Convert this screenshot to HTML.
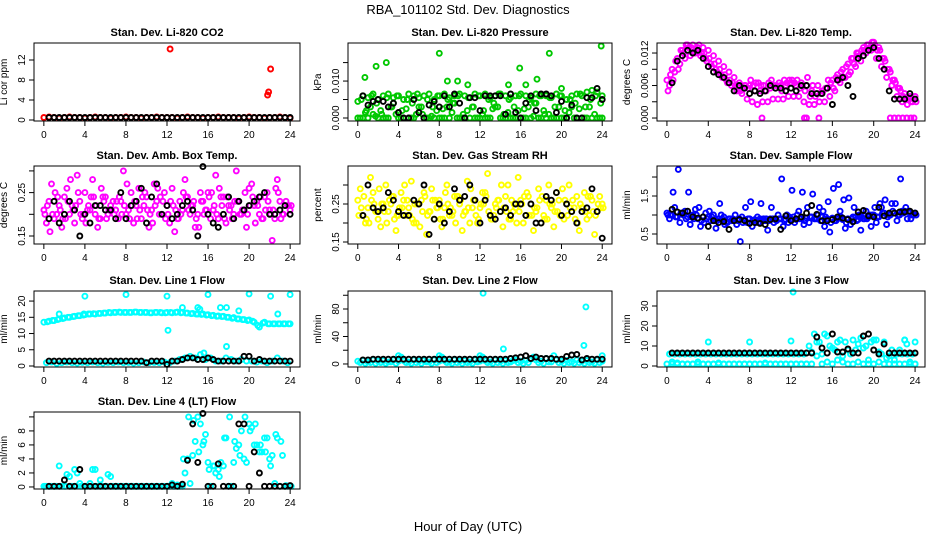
<!DOCTYPE html>
<html><head><meta charset="utf-8"><style>
html,body{margin:0;padding:0;background:#fff;}
svg{display:block;font-family:"Liberation Sans",sans-serif;}
</style></head><body>
<svg id="chart" width="936" height="540" viewBox="0 0 936 540" xmlns="http://www.w3.org/2000/svg">
<rect width="936" height="540" fill="#fff"/>
<text x="468" y="14" text-anchor="middle" font-size="13">RBA_101102  Std. Dev. Diagnostics</text>
<text x="468" y="531" text-anchor="middle" font-size="13">Hour of Day (UTC)</text>
</svg>
<script>
const xTicks=[0,4,8,12,16,20,24];
const co2A=[0.5,0.6,0.5,0.4,0.5,0.6,0.5,0.5,0.4,0.5,0.6,0.5,0.5,0.4,0.5,0.5,0.6,0.5,0.5,0.4,0.5,0.5,0.6,0.5,0.5,0.5,0.4,0.5,0.6,0.5,0.5,0.4,0.5,0.5,0.6,0.5,0.5,0.5,0.4,0.5,0.6,0.5,0.5,0.4,0.5,0.5,0.6,0.5,0.4];
const co2K=[0.5,0.5,0.5,0.5,0.5,0.5,0.5,0.5,0.5,0.5,0.5,0.5,0.5,0.5,0.5,0.5,0.5,0.5,0.5,0.5,0.5,0.5,0.5,0.5,0.5,0.5,0.5,0.5,0.5,0.5,0.5,0.5,0.5,0.5,0.5,0.5,0.5,0.5,0.5,0.5,0.5,0.5,0.5,0.5,0.5,0.5,0.5,0.5];
const co2Out=[[12.3,14.2],[21.8,5.0],[21.9,5.6],[22.1,10.2]];

const prA=[4.5,6,5.5,6.5,5,6,6.5,5.5,6,5,6.5,6,5.5,6,6.5,5,6,6.5,5.5,6,6.5,6,5.5,6.5,6,6.5,5.5,6,6.5,6,5.5,6,6.5,6,5.5,6.5,6,6,5.5,6.5,6,5,6,6.5,6,7,7.5,7,6];
const prB=[0,1.5,3,0.5,2,0,3,1,0,2.5,0,1,3,0,0.5,2,0,3,1.5,0,0,2,3,0,1,0,2.5,3,0,1.5,0,2,0,3,0.5,0,2,1,0,3,0,1.5,0,2.5,0,3,1,0];
const prC=[0,0,0,1,0,0,0,4,0,0,0,0,3,0,0,0,0,0,0,4,0,0,0,0,0,0,0,3,0,0,0,0,0,0,0,4,0,0,0,0,0,0,3,0,0,0,0,0,0];
const prD=[5,2,6,4,1,5.5,3,6,2,5,4,6.5,1,5,3,6,2.5,5,4,6,1,5.5,3,6,2,5,4,6.5,1,5,3,6,2.5,5,4,6,1,5.5,3,6,2,5,4,6.5,3,5,6,4];
const prK=[6,3.5,4.5,5,4.5,3,4,1.5,0,0,5,1.5,0,3.5,4.5,3,6,3,6.5,4,0,5.5,5.5,2,6,6,6,6,1,6.5,1.5,0,4,6,2,6.5,6.5,6,1.5,4.5,0,3.5,0,0,5.5,5.5,8,5];
const prOut=[[0.7,11],[1.8,14],[2.8,15],[8,17.5],[8.8,10],[9.8,10],[10.8,9],[14.8,9],[15.9,13.5],[16.5,9],[17.6,10.5],[18.8,17.5],[20,8],[23.9,19.5]];

const tmA=[7,9,11,12.5,13.5,13.5,13,13,12.5,11.5,10.5,9.5,8.5,7.5,6.5,6,6,5,5,5,5.5,5.5,6,6,6.5,6,6.5,6,5,4.5,5,5.5,7,8,9,10,11,12,13,13.5,14,13,11,9,7,5.5,4.5,4,4];
const tmB=[6,8.5,10,11,11.5,12,11.5,11,10,9,8,7,6,5,4.5,3.5,3,2.5,3,3,3.5,3.5,3.5,4,4,4,3,2.5,2.5,3,3,4,5,6.5,7.5,8.5,9.5,10.5,12,12.5,11,9.5,7.5,6,4,3,2.5,3];
const tmC=[5,7,9,12,13,12,13.5,12,11,10,9,8,7,6,5,6,7,6.5,6,5,7,6,5,6.5,7,7,6,7.5,6,6,5,7,5.5,7,7.5,8,10,11.5,12.5,13,13.5,12.5,10.5,8.5,6.5,5,3.5,3,3];
const tmD=[8,10.5,12.5,13.5,13,12.5,12,10.5,9.5,8.5,7.5,6.5,6.5,6,5.5,5.5,6,6.5,6,6.5,6,6.5,7,7,6.5,5.5,5,4,4,4.5,5.5,6.5,7.5,8.5,9.5,11,12,12.5,13.5,14,12.5,11,9,7,5.5,4,3.5,3.5];
const tmK=[6.5,10.5,11.5,12.5,12,12.5,11,9.5,8.5,8,7.5,6.5,5,6,5.5,4.5,5,4.5,5,6,5.5,5.5,5,5.5,5,6,6,4.5,4.5,4.5,5.5,2.5,7,7.5,6,4,11,11.5,12.5,13,11,9,5,3.5,3.5,3.5,4.5,3.5];
const tmOut=[[9.2,0],[13.3,0],[13.5,0],[14.7,0],[21.6,0],[22,0],[22.4,0],[22.8,0],[23.2,0],[23.6,0],[23.9,0]];

const abA=[0.21,0.23,0.19,0.22,0.24,0.2,0.18,0.23,0.25,0.21,0.2,0.19,0.24,0.22,0.21,0.23,0.2,0.25,0.22,0.19,0.24,0.21,0.23,0.2,0.22,0.26,0.19,0.21,0.24,0.22,0.2,0.23,0.25,0.21,0.19,0.24,0.22,0.2,0.23,0.21,0.26,0.22,0.2,0.24,0.21,0.19,0.23,0.22,0.21];
const abB=[0.18,0.27,0.2,0.17,0.26,0.22,0.29,0.19,0.21,0.28,0.17,0.24,0.2,0.23,0.19,0.3,0.21,0.18,0.26,0.22,0.17,0.27,0.2,0.25,0.18,0.16,0.23,0.28,0.2,0.17,0.25,0.21,0.19,0.29,0.24,0.18,0.22,0.3,0.2,0.17,0.27,0.23,0.19,0.25,0.14,0.28,0.2,0.22];
const abC=[0.2,0.16,0.25,0.21,0.19,0.28,0.22,0.2,0.18,0.24,0.22,0.26,0.19,0.21,0.23,0.2,0.27,0.22,0.19,0.24,0.21,0.18,0.26,0.23,0.2,0.22,0.19,0.25,0.21,0.23,0.17,0.2,0.24,0.22,0.26,0.19,0.21,0.23,0.2,0.25,0.22,0.18,0.24,0.21,0.2,0.26,0.19,0.23,0.22];
const abD=[0.22,0.2,0.24,0.19,0.23,0.21,0.25,0.2,0.22,0.24,0.19,0.23,0.21,0.2,0.24,0.22,0.19,0.23,0.21,0.25,0.2,0.22,0.24,0.19,0.23,0.21,0.2,0.24,0.22,0.19,0.23,0.21,0.25,0.2,0.22,0.24,0.19,0.23,0.21,0.2,0.24,0.22,0.19,0.23,0.21,0.25,0.2,0.22];
const abK=[0.19,0.23,0.18,0.2,0.23,0.21,0.15,0.2,0.18,0.22,0.22,0.21,0.21,0.19,0.25,0.19,0.22,0.23,0.26,0.18,0.24,0.27,0.2,0.22,0.19,0.2,0.22,0.23,0.21,0.15,0.31,0.2,0.18,0.17,0.2,0.24,0.19,0.23,0.21,0.22,0.23,0.24,0.25,0.2,0.2,0.21,0.22,0.2];

const rhA=[0.26,0.22,0.24,0.28,0.21,0.25,0.23,0.27,0.22,0.26,0.24,0.2,0.25,0.28,0.23,0.21,0.26,0.24,0.22,0.27,0.25,0.23,0.2,0.26,0.24,0.28,0.22,0.25,0.23,0.27,0.21,0.24,0.26,0.22,0.25,0.23,0.2,0.26,0.24,0.28,0.22,0.25,0.23,0.27,0.24,0.21,0.26,0.23,0.25];
const rhB=[0.29,0.2,0.32,0.23,0.19,0.3,0.25,0.18,0.28,0.22,0.31,0.2,0.26,0.17,0.29,0.24,0.19,0.3,0.22,0.27,0.18,0.31,0.24,0.2,0.28,0.33,0.21,0.26,0.19,0.3,0.23,0.32,0.2,0.27,0.18,0.29,0.22,0.3,0.19,0.26,0.21,0.3,0.24,0.18,0.28,0.22,0.17,0.27];
const rhC=[0.22,0.27,0.2,0.25,0.29,0.23,0.26,0.21,0.24,0.3,0.22,0.25,0.19,0.27,0.23,0.26,0.21,0.28,0.24,0.2,0.26,0.23,0.29,0.22,0.25,0.27,0.21,0.24,0.3,0.23,0.26,0.2,0.25,0.28,0.22,0.24,0.27,0.21,0.25,0.23,0.29,0.22,0.26,0.2,0.24,0.27,0.23,0.25,0.24];
const rhD=[0.24,0.21,0.26,0.23,0.25,0.2,0.27,0.22,0.24,0.26,0.21,0.25,0.23,0.22,0.26,0.24,0.21,0.25,0.23,0.27,0.22,0.24,0.26,0.21,0.25,0.23,0.22,0.26,0.24,0.21,0.25,0.23,0.27,0.22,0.24,0.26,0.21,0.25,0.23,0.22,0.26,0.24,0.21,0.25,0.23,0.27,0.22,0.24];
const rhK=[0.22,0.3,0.24,0.23,0.24,0.28,0.26,0.23,0.22,0.22,0.26,0.25,0.3,0.17,0.21,0.25,0.2,0.23,0.29,0.26,0.27,0.3,0.26,0.2,0.26,0.22,0.21,0.23,0.24,0.22,0.25,0.25,0.22,0.25,0.2,0.2,0.27,0.26,0.28,0.22,0.25,0.23,0.2,0.23,0.24,0.29,0.23,0.16];

const sfA=[1.05,1.0,0.95,1.05,0.95,1.0,0.9,0.95,0.95,1.0,0.9,0.95,0.9,0.88,0.9,0.88,0.9,0.88,0.9,0.85,0.9,0.88,0.9,0.88,0.9,0.88,0.9,0.92,0.95,0.9,0.95,0.9,0.92,0.9,0.88,0.9,0.95,0.88,0.9,0.95,1.0,0.95,1.05,1.0,1.05,1.0,1.1,1.05,1.05];
const sfB=[0.9,1.2,0.8,1.1,0.75,1.15,0.7,1.05,0.85,0.65,1.0,0.8,0.85,0.75,0.95,0.8,0.7,0.95,0.85,0.6,0.9,1.0,0.7,0.8,0.95,1.1,0.75,0.8,0.9,1.2,0.7,0.55,0.85,1.1,0.65,0.75,0.95,0.6,1.1,0.7,0.8,1.2,0.75,1.3,0.85,1.1,0.9,1.0];
const sfC=[1.0,1.6,2.2,1.0,1.6,0.9,1.2,0.8,1.1,0.85,1.3,0.75,0.9,1.0,0.3,1.2,1.35,0.8,1.3,0.9,1.2,0.85,1.95,1.0,1.65,1.0,1.6,1.2,1.55,1.0,1.1,1.35,1.7,1.8,1.4,1.45,1.2,1.0,0.9,1.0,1.2,1.3,1.4,1.0,1.3,1.95,1.2,0.9,1.0];
const sfD=[1.0,0.95,1.05,0.9,0.95,1.0,0.85,0.9,0.95,0.85,0.9,0.8,0.9,0.85,0.8,0.9,0.85,0.8,0.9,0.85,0.8,0.9,0.85,0.95,0.8,0.9,0.85,0.95,0.9,0.85,0.95,0.8,0.85,0.95,0.8,0.9,0.85,0.95,0.9,1.0,0.95,1.05,0.95,1.1,1.0,1.05,1.1,1.0];
const sfK=[1.15,1.08,1.05,1.1,0.95,0.92,0.95,0.7,0.85,0.8,0.83,0.62,0.85,0.88,0.85,0.78,0.8,0.78,0.75,0.88,0.9,0.62,0.98,0.85,0.9,0.95,1.05,1.25,1.02,0.85,0.85,0.88,0.95,0.92,0.88,0.82,1.08,1.12,0.98,0.95,1.2,0.98,1.05,1.05,1.08,1.08,1.1,1.05];

const l1A=[13.5,13.8,14,14.5,14.8,15,15.3,15.5,15.8,16,16,16.2,16.3,16.4,16.5,16.5,16.5,16.5,16.6,16.5,16.5,16.4,16.5,16.4,16.5,16.4,16.6,16.5,16.3,16.2,16,16,15.8,15.6,15.4,15.3,15,14.9,14.5,14.3,14.2,13.5,12,13.5,13,13,13,13,13];
const l1B=[1,1.2,0.8,1,1.2,1,0.9,1.1,1,1.2,1,0.9,1.1,1,1.2,1,1.1,0.9,1,1.2,1,1.1,1,1.2,1,1.5,2,2.5,3,2.5,3.5,2,2.5,1.5,1.5,2.5,2,1.5,2,1.5,1.5,1.2,1.5,1,1.5,2.5,1.5,1];
const l1D=[13.6,14,14.3,14.6,15,15.2,15.5,15.7,16,16.1,16.2,16.3,16.5,16.5,16.6,16.5,16.5,16.6,16.5,16.5,16.4,16.5,16.5,16.4,16.5,16.5,16.4,16.3,16.1,16,15.9,15.7,15.5,15.3,15.2,15,14.7,14.5,14.3,14,13.8,12.5,13.2,13,13,13,13,13];
const l1K=[1.5,1.5,1.5,1.5,1.5,1.5,1.5,1.5,1.5,1.5,1.5,1.5,1.5,1.5,1.5,1.5,1.5,1.5,1.5,1.0,1.5,1.5,1.5,0.5,1.5,1.5,2,2.5,2.5,2,2,2.5,2,1.5,1.5,1.5,1.5,1.5,3,3,1.5,2,1.5,1.5,1.5,1.5,1.5,1.5];
const l1Out=[[4,21.5],[8,22],[12,21.5],[16,22],[20,22.2],[22.1,21.5],[24,22],[12.1,11],[17.8,6],[13.5,18],[15,18],[15.2,17.5],[17.2,18],[17.8,18],[19,17],[15.6,4],[1.5,16],[3.9,16],[22.8,16]];

const l2A=[4,5,3,6,4,5,3,6,4,5,3,6,4,5,3,6,4,5,3,6,4,5,3,6,4,5,3,6,4,5,3,6,4,5,7,6,4,8,3,6,4,5,3,6,4,5,3,6,4];
const l2B=[2,1,2,1,2,1,3,1,10,2,1,2,1,3,1,2,10,2,1,2,1,2,1,3,10,2,1,2,1,2,5,2,1,2,10,2,1,3,12,2,1,2,1,2,1,2,1,2];
const l2K=[6,6,7,7,7,7,7,7,7,7,7,7,7,7,7,7,7,7,7,7,7,7,7,7,7,7,7,7,7,8,9,10,12,8,10,8,8,8,7,7,11,13,14,6,8,7,7,7];
const l2Out=[[12.3,103],[22.4,83],[22.2,27],[14.3,22],[4,12],[8,12],[12,12],[24,12]];

const l3A=[1,1,1.5,1,1,1,2,1,1,1,1.5,1,1,1,1,1,1,1,1,1.5,1,1,1,1,1,1,1,1,1,5,1,2,1,3,2,1,1,2,1,1,1,2,1,1,1,1,1,1,1];
const l3B=[6,6,6,6,6,6,6,6,6,6,6,6,6,6,6,6,6,6,6,6,6,6,6,6,6,6,6,10,16,12,16,10,8,13,12,6,8,14,10,12,13,6,4,8,6,6,6,6];
const l3C=[2,1,1,1,1,1,1,1,1,1,1,1,1,1,1,1,1,1,1,1,1,1,1,1,1,1,1,7,12,6,15,9,12,5,8,13,11,9,3,13,7,12,5,3,8,13,2,1];
const l3K=[6.5,6.5,6.5,6.5,6.5,6.5,6.5,6.5,6.5,6.5,6.5,6.5,6.5,6.5,6.5,6.5,6.5,6.5,6.5,6.5,6.5,6.5,6.5,6.5,6.5,6.5,6.5,6.5,14.5,9,6.5,16,7,7,8.5,6.5,6.5,15,16,8,6,11,6.5,6.5,6.5,6.5,6.5,6.5];
const l3Out=[[12.2,37],[4,12],[8,12],[12,12.5],[24,12],[23,13],[23.2,11]];

const l4A=[0.1,0.1,0.1,3,0.1,1.5,2.5,0.5,0.1,0.5,2.5,1,0.1,1.5,0.1,0.1,0.1,0.1,0.1,0.1,0.1,0.1,0.1,0.1,0.1,0.5,0.3,0.1,4,4.5,10,6,3.5,3,2.5,3,0.1,3.5,6,4,9,6,5,7,4,0.5,0.1,0.1,0.1];
const l4B=[0.1,0.1,0.1,0.1,1.8,0.1,2,0.1,0.1,2.5,0.1,0.1,1.8,0.1,0.1,0.1,0.1,0.1,0.1,0.1,0.1,0.1,0.1,0.1,0.1,0.1,0.1,2,0.5,6.5,9,7.5,0.1,2,3.5,7,0.1,5.5,8,3.5,8.5,6,5,7,4.5,7,4.5,0.1];
const l4C=[0.1,0.1,0.1,0.1,0.1,0.1,0.1,0.1,0.1,0.1,0.1,0.1,0.1,0.1,0.1,0.1,0.1,0.1,0.1,0.1,0.1,0.1,0.1,0.1,0.1,0.1,0.1,4,10,9.5,5,6.5,2.5,3,1.5,7,10,6.5,4.5,10,8,9,6,5,3,7.5,6.5,0.2,0.1];
const l4K=[0.1,0.1,0.1,1,0.1,0.1,2.5,0.1,0.1,0.1,0.1,0.1,0.1,0.1,0.1,0.1,0.1,0.1,0.1,0.1,0.1,0.1,0.1,0.1,0.3,0.1,0.4,3.8,9,3.5,10.5,0.1,0.1,3.3,0.1,0.1,0.1,9,9,0.1,5,2,0.1,0.1,0.1,0.1,0.1,0.2];

const cols=[[34,300],[348,612],[657,925]];
const rows=[[43,121],[166,244],[291,367],[412,489]];
const NS="http://www.w3.org/2000/svg";
const svg=document.getElementById('chart');
function mk(tag,attrs,parent){const e=document.createElementNS(NS,tag);for(const k in attrs)e.setAttribute(k,attrs[k]);(parent||svg).appendChild(e);return e;}

const panels=[
 {name:'co2',c:0,r:0,title:'Stan. Dev. Li-820 CO2',ylab:'Li cor ppm',dom:[-0.2,15.4],ticks:[0,4,8,12],labels:['0','4','8','12'],col:'#ff0000',ser:[[0,co2A]],K:co2K,out:co2Out},
 {name:'pressure',c:1,r:0,title:'Stan. Dev. Li-820 Pressure',ylab:'kPa',dom:[-0.81,20.3],ticks:[0,5,10,15],labels:['0.000','','0.010',''],col:'#00c800',ser:[[0,prA],[0.25,prB],[0,prC],[0.35,prD]],K:prK,out:prOut},
 {name:'temp',c:2,r:0,title:'Stan. Dev. Li-820 Temp.',ylab:'degrees C',dom:[-0.55,13.85],ticks:[0,3,6,9,12],labels:['0.000','','0.006','','0.012'],col:'#ff00ff',ser:[[0,tmA],[0.25,tmB],[0.1,tmC],[0.35,tmD]],K:tmK,out:tmOut},
 {name:'amb-box-temp',c:0,r:1,title:'Stan. Dev. Amb. Box Temp.',ylab:'degrees C',dom:[0.1316,0.3113],ticks:[0.15,0.2,0.25,0.3],labels:['0.15','','0.25',''],col:'#ff00ff',ser:[[0,abA],[0.25,abB],[0.1,abC],[0.35,abD]],K:abK,out:[]},
 {name:'gas-stream-rh',c:1,r:1,title:'Stan. Dev. Gas Stream RH',ylab:'percent',dom:[0.1447,0.35],ticks:[0.15,0.2,0.25,0.3],labels:['0.15','','0.25',''],col:'#ffff00',ser:[[0,rhA],[0.25,rhB],[0.1,rhC],[0.35,rhD]],K:rhK,out:[]},
 {name:'sample-flow',c:2,r:1,title:'Stan. Dev. Sample Flow',ylab:'ml/min',dom:[0.237,2.29],ticks:[0.5,1,1.5,2],labels:['0.5','','1.5',''],col:'#0000ff',ser:[[0,sfA],[0.25,sfB],[0.1,sfC],[0.35,sfD]],K:sfK,out:[]},
 {name:'line1-flow',c:0,r:2,title:'Stan. Dev. Line 1 Flow',ylab:'ml/min',dom:[-0.31,23.1],ticks:[0,5,10,15,20],labels:['0','5','10','15','20'],col:'#00ffff',ser:[[0,l1A],[0.25,l1B],[0.35,l1D]],K:l1K,out:l1Out},
 {name:'line2-flow',c:1,r:2,title:'Stan. Dev. Line 2 Flow',ylab:'ml/min',dom:[-4.4,106.2],ticks:[0,20,40,60,80,100],labels:['0','','40','','80',''],col:'#00ffff',ser:[[0,l2A],[0.25,l2B]],K:l2K,out:l2Out},
 {name:'line3-flow',c:2,r:2,title:'Stan. Dev. Line 3 Flow',ylab:'ml/min',dom:[-0.5,37.5],ticks:[0,10,20,30],labels:['0','10','20','30'],col:'#00ffff',ser:[[0,l3A],[0.25,l3B],[0.5,l3C]],K:l3K,out:l3Out},
 {name:'line4-flow',c:0,r:3,title:'Stan. Dev. Line 4 (LT) Flow',ylab:'ml/min',dom:[-0.29,10.7],ticks:[0,2,4,6,8,10],labels:['0','2','4','6','8',''],col:'#00ffff',ser:[[0,l4A],[0.25,l4B],[0.1,l4C]],K:l4K,out:[]}
];

panels.forEach(p=>{
  const [L,R]=cols[p.c],[T,B]=rows[p.r];
  const xs=t=>L+(t+0.96)/25.92*(R-L);
  const ys=v=>B-(v-p.dom[0])/(p.dom[1]-p.dom[0])*(B-T);
  const g=mk('g',{});
  
  
  const tt=mk('text',{x:(L+R)/2,y:T-7,'text-anchor':'middle','font-size':'11','font-weight':'bold'},g);
  tt.textContent=p.title;
  
  
  const draw=(t,v,c,nm)=>{
    const ci=mk('circle',{cx:xs(t).toFixed(1),cy:ys(v).toFixed(1),r:2.5,fill:'none',stroke:c,'stroke-width':1.9},g);
    
    
  };
  p.ser.forEach(([t0,arr])=>arr.forEach((v,i)=>draw(t0+i*0.5,v,p.col,'point-'+p.name)));
  p.out.forEach(([t,v])=>draw(t,v,p.col,'outlier-'+p.name));
  p.K.forEach((v,i)=>draw(0.5+i*0.5,v,'#000','hourly-point-'+p.name));
  const box=mk('rect',{x:L,y:T,width:R-L,height:B-T,fill:'none',stroke:'#000','stroke-width':1},g);
  
  
  const xa=mk('g',{},g);
  
  
  mk('line',{x1:xs(xTicks[0]),x2:xs(xTicks[xTicks.length-1]),y1:B,y2:B,stroke:'#000'},xa);
  xTicks.forEach(t=>{
    mk('line',{x1:xs(t),x2:xs(t),y1:B,y2:B+5,stroke:'#000'},xa);
    const tx=mk('text',{x:xs(t),y:B+17,'text-anchor':'middle','font-size':'10'},xa);
    tx.textContent=t;
  });
  const ya=mk('g',{},g);
  
  
  mk('line',{x1:L,x2:L,y1:ys(p.ticks[0]),y2:ys(p.ticks[p.ticks.length-1]),stroke:'#000'},ya);
  p.ticks.forEach((v,i)=>{
    const y=ys(v);
    mk('line',{x1:L-5,x2:L,y1:y,y2:y,stroke:'#000'},ya);
    if(p.labels[i]){
      const tx=mk('text',{x:L-9,y:y,'text-anchor':'middle','font-size':'10',transform:`rotate(-90 ${L-9} ${y})`},ya);
      tx.textContent=p.labels[i];
    }
  });
  const yl=mk('text',{x:L-27,y:(T+B)/2,'text-anchor':'middle','font-size':'10',transform:`rotate(-90 ${L-27} ${(T+B)/2})`},g);
  yl.textContent=p.ylab;
  
  
});
</script>
</body></html>
